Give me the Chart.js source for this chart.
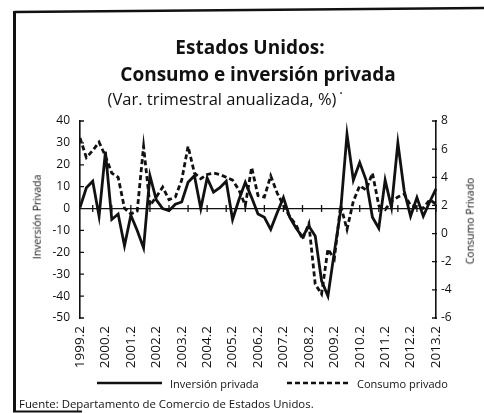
<!DOCTYPE html>
<html>
<head>
<meta charset="utf-8">
<script src="https://cdn.jsdelivr.net/npm/chart.js@4.4.1/dist/chart.umd.min.js"></script>
<style>
  body { margin: 0; background: #fff; width: 484px; height: 413px; overflow: hidden; position: relative; font-family: "Open Sans", sans-serif; color: #111; }
  #marco { position: absolute; left: 0; top: 0; }
  .txt { position: absolute; white-space: nowrap; line-height: 1; }
  .centro { transform: translate(-50%, -50%); }
  .vert { transform: translate(-50%, -50%) rotate(-90deg); }
  #grafico { position: absolute; left: 0; top: 0; }
</style>
</head>
<body>
<svg id="marco" width="484" height="413">
  <line x1="14.5" y1="12" x2="484" y2="8" stroke="#111" stroke-width="2.5"/>
  <line x1="14.5" y1="11" x2="14.5" y2="412" stroke="#111" stroke-width="3"/>
  <line x1="13" y1="411.5" x2="82" y2="411.5" stroke="#111" stroke-width="2"/>
</svg>
<canvas id="grafico" width="484" height="413"></canvas>

<div class="txt centro" style="left:250px; top:47px; font-size:19px; font-weight:700;">Estados Unidos:</div>
<div class="txt centro" style="left:258px; top:74px; font-size:19px; font-weight:700;">Consumo e inversión privada</div>
<div class="txt centro" style="left:222px; top:99px; font-size:16.5px;">(Var. trimestral anualizada, %)</div>
<div class="txt centro" style="left:341px; top:93px; font-size:14px;">·</div>

<div class="txt vert" style="left:37px; top:217px; font-size:10.5px;">Inversión Privada</div>
<div class="txt vert" style="left:470px; top:221px; font-size:10.5px;">Consumo Privado</div>

<svg class="txt" style="left:97px; top:379px;" width="66" height="8"><line x1="0" y1="4" x2="65" y2="4" stroke="#111" stroke-width="2.5"/></svg>
<div class="txt" style="left:170px; top:378px; font-size:11px;">Inversión privada</div>
<svg class="txt" style="left:287px; top:379px;" width="62" height="8"><line x1="0" y1="4" x2="61" y2="4" stroke="#111" stroke-width="2.5" stroke-dasharray="5 3"/></svg>
<div class="txt" style="left:357px; top:378px; font-size:11px;">Consumo privado</div>

<div class="txt" style="left:19px; top:398px; font-size:11.4px;">Fuente: Departamento de Comercio de Estados Unidos.</div>

<script>
const trimestres = [
  "1999.2", "1999.3", "1999.4",
  "2000.1", "2000.2", "2000.3", "2000.4",
  "2001.1", "2001.2", "2001.3", "2001.4",
  "2002.1", "2002.2", "2002.3", "2002.4",
  "2003.1", "2003.2", "2003.3", "2003.4",
  "2004.1", "2004.2", "2004.3", "2004.4",
  "2005.1", "2005.2", "2005.3", "2005.4",
  "2006.1", "2006.2", "2006.3", "2006.4",
  "2007.1", "2007.2", "2007.3", "2007.4",
  "2008.1", "2008.2", "2008.3", "2008.4",
  "2009.1", "2009.2", "2009.3", "2009.4",
  "2010.1", "2010.2", "2010.3", "2010.4",
  "2011.1", "2011.2", "2011.3", "2011.4",
  "2012.1", "2012.2", "2012.3", "2012.4",
  "2013.1", "2013.2"
];

// Inversión privada (eje izquierdo)
const inversion = [
  0.5, 9.5, 12.5,
  -3.5, 26, -5, -2.5,
  -17, -3, -10, -18,
  15, 4, 0, -1,
  2, 3, 12, 15,
  0, 14, 7.5, 9.5,
  12.5, -5, 4, 12,
  5, -2.5, -4, -9.5,
  -2, 5, -4, -9,
  -13, -8, -12.5, -33,
  -40, -20, -1, 34,
  13, 21, 13, -4,
  -9, 13, 0.5, 30,
  8, -3.5, 5, -3.5,
  3, 9
];

// Consumo privado (eje derecho)
const consumo = [
  6.8, 5.4, 5.9,
  6.5, 5.5, 4.3, 4.0,
  1.8, 1.4, 1.6, 6.2,
  2.0, 2.6, 3.3, 2.4,
  2.6, 3.8, 6.2, 4.3,
  3.9, 4.2, 4.3, 4.2,
  4.0, 3.8, 3.1, 2.0,
  4.7, 2.7, 2.6, 4.1,
  2.9, 2.0, 1.2, 0.6,
  -0.4, 0.7, -3.6, -4.3,
  -1.1, -1.8, 2.0, 0.3,
  2.3, 3.4, 3.1, 4.3,
  2.0, 1.7, 2.3, 2.6,
  2.8, 2.0, 1.9, 1.8,
  2.4, 2.1
];

const ticksIzq = [-50, -40, -30, -20, -10, 0, 10, 20, 30, 40];
const ticksDer = [-6, -4, -2, 0, 2, 4, 6, 8];
const marcasCero = [2, 5, 8, 11, 14, 17, 20, 23, 26, 29, 32, 35, 38, 41, 44, 47, 50, 53, 56];

// linea del cero con marcas y marcas cortas en los ejes
const ejeCero = {
  id: "ejeCero",
  beforeDatasetsDraw(chart) {
    const { ctx, chartArea, scales } = chart;
    const y0 = scales.y.getPixelForValue(0);
    ctx.save();
    ctx.strokeStyle = "#111";
    ctx.lineWidth = 1.3;
    ctx.beginPath();
    ctx.moveTo(chartArea.left, y0);
    ctx.lineTo(chartArea.right, y0);
    marcasCero.forEach(i => {
      const x = scales.x.getPixelForValue(i);
      ctx.moveTo(x, y0 - 3.5);
      ctx.lineTo(x, y0 + 3.5);
    });
    ticksIzq.forEach(v => {
      const y = scales.y.getPixelForValue(v);
      ctx.moveTo(chartArea.left - 1, y);
      ctx.lineTo(chartArea.left + 4, y);
    });
    ticksDer.forEach(v => {
      const y = scales.y1.getPixelForValue(v);
      ctx.moveTo(chartArea.right - 4, y);
      ctx.lineTo(chartArea.right + 1, y);
    });
    ctx.stroke();
    ctx.restore();
  }
};

const fuenteTicks = { family: "'Open Sans', sans-serif", size: 12 };

new Chart(document.getElementById("grafico"), {
  type: "line",
  data: {
    labels: trimestres,
    datasets: [
      {
        label: "Inversión privada",
        data: inversion,
        yAxisID: "y",
        borderColor: "#111",
        borderWidth: 2.8,
        pointRadius: 0,
        tension: 0,
        fill: false
      },
      {
        label: "Consumo privado",
        data: consumo,
        yAxisID: "y1",
        borderColor: "#111",
        borderWidth: 2.8,
        borderDash: [5, 3],
        pointRadius: 0,
        tension: 0,
        fill: false
      }
    ]
  },
  options: {
    responsive: false,
    animation: false,
    events: [],
    layout: { padding: { top: 121, left: 0, right: 0, bottom: 0 } },
    plugins: {
      legend: { display: false },
      tooltip: { enabled: false }
    },
    scales: {
      x: {
        grid: { display: false, drawTicks: false },
        border: { display: false },
        afterFit: s => { s.height = 95; },
        ticks: {
          autoSkip: false,
          minRotation: 90,
          maxRotation: 90,
          padding: 8,
          color: "#111",
          font: { family: "'Open Sans', sans-serif", size: 13.5 },
          callback: (v, i) => (i % 4 === 0 ? trimestres[i] : "")
        }
      },
      y: {
        position: "left",
        min: -50,
        max: 40,
        afterFit: s => { s.width = 80; },
        afterBuildTicks: s => { s.ticks = ticksIzq.map(v => ({ value: v })); },
        grid: { display: false, drawTicks: false },
        border: { display: true, color: "#111", width: 1.6 },
        ticks: { padding: 10, color: "#111", font: fuenteTicks }
      },
      y1: {
        position: "right",
        min: -6,
        max: 8,
        afterFit: s => { s.width = 48; },
        afterBuildTicks: s => { s.ticks = ticksDer.map(v => ({ value: v })); },
        grid: { display: false, drawTicks: false },
        border: { display: true, color: "#111", width: 1.6 },
        ticks: { padding: 5, color: "#111", font: fuenteTicks }
      }
    }
  },
  plugins: [ejeCero]
});
</script>
</body>
</html>
